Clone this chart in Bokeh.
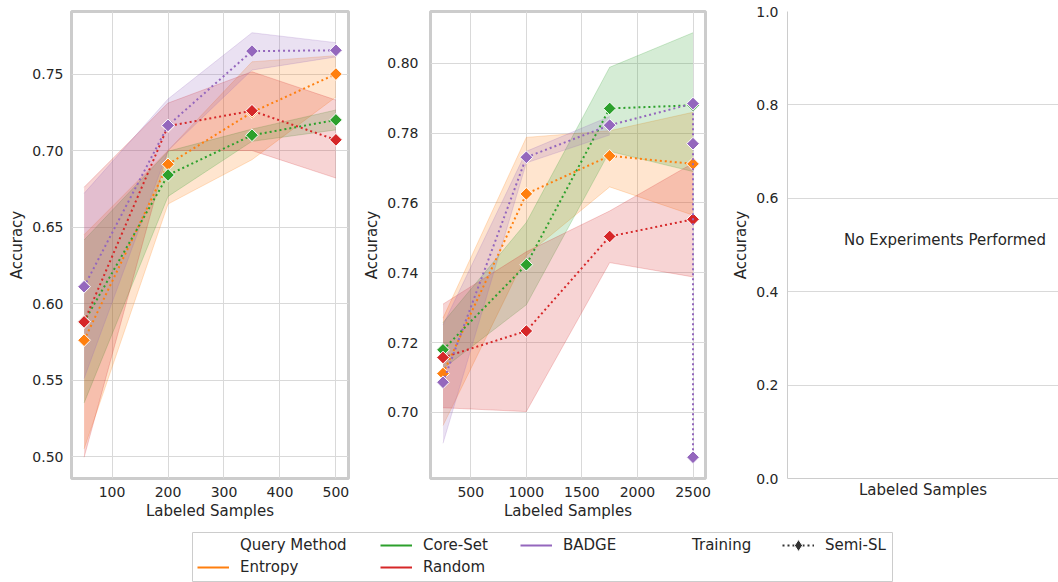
import numpy as np
from bokeh.plotting import figure
from bokeh.layouts import column, row
from bokeh.models import (Range1d, FixedTicker, PrintfTickFormatter, Legend,
                          LegendItem, Label)
from bokeh.embed import file_html
from bokeh.resources import INLINE

# ---------------- data ----------------
methods = ["Entropy", "Core-Set", "Random", "BADGE"]
method_colors = ["#ff7f0e", "#2ca02c", "#d62728", "#9467bd"]

# Panel 1
p1_x = [50, 200, 350, 500]
p1_entropy_mean = [0.576, 0.691, 0.725, 0.750]
p1_entropy_lo = [0.505, 0.665, 0.694, 0.735]
p1_entropy_hi = [0.645, 0.700, 0.758, 0.762]
p1_coreset_mean = [0.588, 0.684, 0.710, 0.720]
p1_coreset_lo = [0.535, 0.670, 0.706, 0.7135]
p1_coreset_hi = [0.6415, 0.6995, 0.714, 0.7265]
p1_random_mean = [0.588, 0.716, 0.726, 0.707]
p1_random_lo = [0.4995, 0.700, 0.700, 0.682]
p1_random_hi = [0.676, 0.731, 0.7515, 0.733]
p1_badge_mean = [0.611, 0.7164, 0.765, 0.7655]
p1_badge_lo = [0.551, 0.700, 0.7526, 0.7612]
p1_badge_hi = [0.672, 0.7337, 0.777, 0.7705]
p1_xticks = [100, 200, 300, 400, 500]
p1_yticks = [0.50, 0.55, 0.60, 0.65, 0.70, 0.75]

# Panel 2
p2_x = [250, 1000, 1750, 2500]
p2_entropy_mean = [0.7111, 0.7626, 0.7735, 0.7712]
p2_entropy_lo = [0.6962, 0.745, 0.7646, 0.7565]
p2_entropy_hi = [0.727, 0.7788, 0.7807, 0.786]
p2_coreset_mean = [0.7179, 0.7423, 0.7871, 0.788]
p2_coreset_lo = [0.7125, 0.7308, 0.7748, 0.769]
p2_coreset_hi = [0.7257, 0.7544, 0.7989, 0.8088]
p2_random_mean = [0.7157, 0.7233, 0.7504, 0.7553]
p2_random_lo = [0.7013, 0.7002, 0.7429, 0.7388]
p2_random_hi = [0.731, 0.746, 0.7577, 0.7714]
p2_badge_x = [250, 1000, 1750, 2500, 2500, 2500]
p2_badge_mean = [0.7086, 0.7731, 0.7823, 0.7885, 0.777, 0.6871]
p2_badge_band_x = [250, 1000, 1750]
p2_badge_lo = [0.6911, 0.7715, 0.7795]
p2_badge_hi = [0.725, 0.7748, 0.7848]
p2_xticks = [500, 1000, 1500, 2000, 2500]
p2_yticks = [0.70, 0.72, 0.74, 0.76, 0.78, 0.80]

# Panel 3
p3_yticks = [0.0, 0.2, 0.4, 0.6, 0.8, 1.0]
p3_message = "No Experiments Performed"

x_label = "Labeled Samples"
y_label = "Accuracy"
legend_labels = ["Query Method", "Entropy", "Core-Set", "Random", "BADGE",
                 "Training", "Semi-SL"]

FONT = "DejaVu Sans"
TXT = "#262626"
GRID = "#d9d9d9"
SPINE = "#cccccc"


def pad_range(lo, hi, frac=0.05):
    span = hi - lo
    return Range1d(lo - frac * span, hi + frac * span)


def style(p, standoff):
    for ax in [p.xaxis[0], p.yaxis[0]]:
        ax.major_label_text_font = FONT
        ax.major_label_text_font_size = "14px"
        ax.major_label_text_color = TXT
        ax.axis_label_text_font = FONT
        ax.axis_label_text_font_size = "15px"
        ax.axis_label_text_color = TXT
        ax.axis_label_text_font_style = "normal"
        ax.major_tick_line_color = None
        ax.minor_tick_line_color = None
        ax.major_tick_out = 0
        ax.major_tick_in = 0
        ax.minor_tick_out = 0
        ax.minor_tick_in = 0
    p.xaxis.major_label_standoff = 8
    p.yaxis.major_label_standoff = standoff
    p.xaxis.axis_label_standoff = 2
    p.yaxis.axis_label_standoff = 3
    p.xaxis.axis_label = x_label
    p.yaxis.axis_label = y_label
    p.grid.grid_line_color = GRID
    p.grid.grid_line_width = 1
    p.background_fill_color = "white"
    p.border_fill_color = "white"


def make_panel(series, xticks, yticks, xr_data, yr_vals, width, bl, br, standoff):
    xr = pad_range(min(xr_data), max(xr_data))
    yr = pad_range(min(yr_vals), max(yr_vals))
    p = figure(width=width, height=530, x_range=xr, y_range=yr,
               output_backend="svg", toolbar_location=None,
               min_border_left=bl, min_border_right=br,
               min_border_top=11, min_border_bottom=52)
    style(p, standoff)
    p.xaxis.ticker = FixedTicker(ticks=xticks)
    p.yaxis.ticker = FixedTicker(ticks=yticks)
    p.yaxis.formatter = PrintfTickFormatter(format="%.2f")
    p.xaxis.axis_line_color = None
    p.yaxis.axis_line_color = None
    p.outline_line_color = SPINE
    p.outline_line_width = 3
    # bands first (below all lines)
    for s in series:
        bx, lo, hi, c = s["bx"], s["lo"], s["hi"], s["color"]
        p.varea(x=bx, y1=lo, y2=hi, fill_color=c, fill_alpha=0.2)
        p.line(x=bx, y=lo, line_color=c, line_alpha=0.22, line_width=1)
        p.line(x=bx, y=hi, line_color=c, line_alpha=0.22, line_width=1)
    for s in series:
        c = s["color"]
        p.line(x=s["x"], y=s["mean"], line_color=c, line_width=2, line_dash="2 3")
        p.scatter(x=s["x"], y=s["mean"], marker="square", angle=np.pi / 4, size=9,
                  fill_color=c, line_color="white", line_width=1)
    return p


p1_series = [
    dict(x=p1_x, mean=p1_entropy_mean, bx=p1_x, lo=p1_entropy_lo, hi=p1_entropy_hi, color=method_colors[0]),
    dict(x=p1_x, mean=p1_coreset_mean, bx=p1_x, lo=p1_coreset_lo, hi=p1_coreset_hi, color=method_colors[1]),
    dict(x=p1_x, mean=p1_random_mean, bx=p1_x, lo=p1_random_lo, hi=p1_random_hi, color=method_colors[2]),
    dict(x=p1_x, mean=p1_badge_mean, bx=p1_x, lo=p1_badge_lo, hi=p1_badge_hi, color=method_colors[3]),
]
p1_yvals = sum([s["lo"] + s["hi"] + s["mean"] for s in p1_series], [])
p1 = make_panel(p1_series, p1_xticks, p1_yticks, p1_x, p1_yvals, 360, 71, 12, 8)

p2_series = [
    dict(x=p2_x, mean=p2_entropy_mean, bx=p2_x, lo=p2_entropy_lo, hi=p2_entropy_hi, color=method_colors[0]),
    dict(x=p2_x, mean=p2_coreset_mean, bx=p2_x, lo=p2_coreset_lo, hi=p2_coreset_hi, color=method_colors[1]),
    dict(x=p2_x, mean=p2_random_mean, bx=p2_x, lo=p2_random_lo, hi=p2_random_hi, color=method_colors[2]),
    dict(x=p2_badge_x, mean=p2_badge_mean, bx=p2_badge_band_x, lo=p2_badge_lo, hi=p2_badge_hi, color=method_colors[3]),
]
p2_yvals = sum([s["lo"] + s["hi"] + s["mean"] for s in p2_series], [])
p2 = make_panel(p2_series, p2_xticks, p2_yticks, p2_x, p2_yvals, 360, 68, 15, 12)

# Panel 3 (empty)
p3 = figure(width=338, height=530, x_range=Range1d(0, 0.86), y_range=Range1d(0, 1),
            output_backend="svg", toolbar_location=None,
            min_border_left=67, min_border_right=0, min_border_top=11, min_border_bottom=52)
style(p3, 9)
p3.xaxis.ticker = FixedTicker(ticks=[])
p3.yaxis.ticker = FixedTicker(ticks=p3_yticks)
p3.yaxis.formatter = PrintfTickFormatter(format="%.1f")
p3.xgrid.visible = False
p3.outline_line_color = None
p3.xaxis.axis_line_color = SPINE
p3.yaxis.axis_line_color = SPINE
p3.xaxis.axis_label_standoff = 2
p3.add_layout(Label(x=0.5, y=0.5, text=p3_message, text_align="center",
                    text_baseline="middle", text_font=FONT, text_font_size="15px",
                    text_color=TXT, y_offset=5))

# Legend strip: the frame of this small figure is the legend box
leg = figure(width=1058, height=52, output_backend="svg", toolbar_location=None,
             x_axis_location=None, y_axis_location=None,
             min_border_left=192, min_border_right=166, min_border_top=2,
             min_border_bottom=0,
             outline_line_color=SPINE, outline_line_width=1,
             x_range=Range1d(0, 1), y_range=Range1d(0, 1))
leg.xgrid.visible = False
leg.ygrid.visible = False
nan = [float("nan")]
r_blank1 = leg.line(x=nan, y=nan, line_alpha=0)
r_blank2 = leg.line(x=nan, y=nan, line_alpha=0)
r_methods = [leg.line(x=nan, y=nan, line_color=c, line_width=2) for c in method_colors]
r_semi_line = leg.line(x=nan, y=nan, line_color="#333333", line_width=2, line_dash="2 3")
r_semi_mark = leg.scatter(x=nan, y=nan, marker="diamond", size=9,
                          fill_color="#333333", line_color="white", line_width=1)

# (items, x offset, glyph height)
legend_columns = [
    ([LegendItem(label=legend_labels[0], renderers=[r_blank1]),
      LegendItem(label=legend_labels[1], renderers=[r_methods[0]])], 5, 18),
    ([LegendItem(label=legend_labels[2], renderers=[r_methods[1]]),
      LegendItem(label=legend_labels[3], renderers=[r_methods[2]])], 188, 18),
    ([LegendItem(label=legend_labels[4], renderers=[r_methods[3]])], 328, 18),
    ([LegendItem(label=legend_labels[5], renderers=[r_blank2])], 457, 18),
    ([LegendItem(label=legend_labels[6], renderers=[r_semi_line, r_semi_mark])], 590, 30),
]
frame_h = 52 - 2
row1_center = 13  # px below legend box top
for its, xoff, gh in legend_columns:
    h = len(its) * gh + (len(its) - 1) * 4
    top = row1_center - gh / 2
    lg = Legend(items=its, orientation="vertical", location=(xoff, frame_h - top - h),
                label_text_font=FONT, label_text_font_size="15px", label_text_color=TXT,
                glyph_width=32, glyph_height=gh, label_height=18, label_standoff=11,
                spacing=4, padding=0, margin=0,
                border_line_color=None, background_fill_alpha=0)
    leg.add_layout(lg)

layout = column(row(p1, p2, p3, spacing=0), leg, spacing=0)
open("out.html", "w").write(file_html(layout, INLINE))
